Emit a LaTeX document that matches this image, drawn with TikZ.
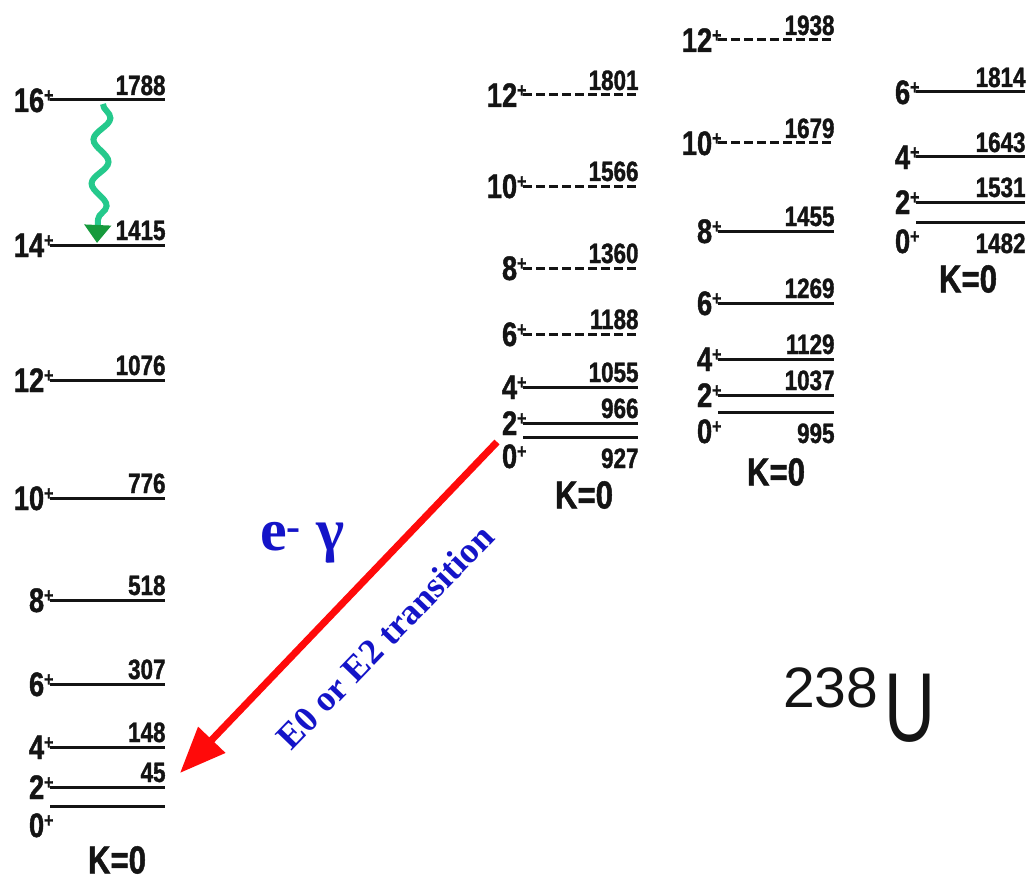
\documentclass[tikz,border=0pt]{standalone}
\usepackage{fontspec}
\usepackage{graphicx}
\usepackage{tikz}
\usetikzlibrary{arrows.meta,decorations.pathmorphing}
\setmainfont{Liberation Sans}
\newfontfamily\lvlfont[FakeStretch=0.8,FakeBold=1.2]{Liberation Sans}
\newfontfamily\notefont{Liberation Serif}
\newcommand{\parplus}{\raisebox{10pt}{\fontsize{20}{20}\selectfont+}}
\definecolor{ink}{HTML}{141414}
\definecolor{notered}{HTML}{FF0A0A}
\definecolor{noteblue}{HTML}{1414C8}
\definecolor{gammagreen}{HTML}{25C98C}
\definecolor{gammadark}{HTML}{169A3C}
\tikzset{
  level/.style={draw=ink,line width=3pt},
  dlevel/.style={level,dash pattern=on 9pt off 4pt},
  lvltext/.style={anchor=base east,inner sep=0pt,text=ink},
  spin/.style={lvltext,xshift=5pt,yshift=-12pt,
               font=\lvlfont\bfseries\fontsize{34}{36}\selectfont},
  spinlow/.style={lvltext,xshift=5pt,yshift=-31pt,
                  font=\lvlfont\bfseries\fontsize{34}{36}\selectfont},
  energy/.style={lvltext,xshift=2pt,yshift=5pt,
                 font=\lvlfont\bfseries\fontsize{28}{30}\selectfont},
  energylow/.style={lvltext,xshift=2pt,yshift=-31pt,
                    font=\lvlfont\bfseries\fontsize{28}{30}\selectfont},
  kband/.style={inner sep=0pt,text=ink,font=\lvlfont\bfseries\fontsize{39}{40}\selectfont},
  nucleus/.style={anchor=base west,inner sep=0pt,text=ink},
  e0arr/.style={-{Triangle[length=46pt,width=36pt]},line width=7pt,color=notered},
  gammaarr/.style={-{Triangle[length=18pt,width=26pt,color=gammadark]},line width=6pt,
                   color=gammagreen,decorate,
                   decoration={snake,segment length=44pt,amplitude=8pt,post length=20pt}},
  egamma/.style={anchor=base west,inner sep=0pt,text=noteblue,
                 font=\notefont\bfseries\fontsize{60}{60}\selectfont},
  trans/.style={inner sep=0pt,text=noteblue,rotate=46,
                font=\notefont\bfseries\fontsize{36}{36}\selectfont}
}
\begin{document}
\begin{tikzpicture}[x=1pt,y=-1pt]
  \fill[white] (0,0) rectangle (1031,880);
  \useasboundingbox (0,0) rectangle (1031,880);
  % ground band
  \draw[level] (50,100) node[spin] (g16) {16\parplus} -- (165,100) node[energy] (g16e) {1788};
  \draw[level] (50,245) node[spin] (g14) {14\parplus} -- (165,245) node[energy] (g14e) {1415};
  \draw[level] (50,380) node[spin] (g12) {12\parplus} -- (165,380) node[energy] (g12e) {1076};
  \draw[level] (50,498) node[spin] (g10) {10\parplus} -- (165,498) node[energy] (g10e) {776};
  \draw[level] (50,600) node[spin] (g8) {8\parplus} -- (165,600) node[energy] (g8e) {518};
  \draw[level] (50,684) node[spin] (g6) {6\parplus} -- (165,684) node[energy] (g6e) {307};
  \draw[level] (50,747) node[spin] (g4) {4\parplus} -- (165,747) node[energy] (g4e) {148};
  \draw[level] (50,787) node[spin] (g2) {2\parplus} -- (165,787) node[energy] (g2e) {45};
  \draw[level] (50,806) node[spinlow] (g0) {0\parplus} -- (165,806);
  \node[kband] (gk) at (117,860) {K=0};
  % beta band
  \draw[dlevel] (523,95) node[spin] (b12) {12\parplus} -- (638,95) node[energy] (b12e) {1801};
  \draw[dlevel] (523,186) node[spin] (b10) {10\parplus} -- (638,186) node[energy] (b10e) {1566};
  \draw[dlevel] (523,268) node[spin] (b8) {8\parplus} -- (638,268) node[energy] (b8e) {1360};
  \draw[dlevel] (523,334) node[spin] (b6) {6\parplus} -- (638,334) node[energy] (b6e) {1188};
  \draw[level] (523,387) node[spin] (b4) {4\parplus} -- (638,387) node[energy] (b4e) {1055};
  \draw[level] (523,423) node[spin] (b2) {2\parplus} -- (638,423) node[energy] (b2e) {966};
  \draw[level] (523,437) node[spinlow] (b0) {0\parplus} -- (638,437) node[energylow] (b0e) {927};
  \node[kband] (bk) at (584,495) {K=0};
  % second band
  \draw[dlevel] (718,40) node[spin] (c12) {12\parplus} -- (834,40) node[energy] (c12e) {1938};
  \draw[dlevel] (718,143) node[spin] (c10) {10\parplus} -- (834,143) node[energy] (c10e) {1679};
  \draw[level] (718,231) node[spin] (c8) {8\parplus} -- (834,231) node[energy] (c8e) {1455};
  \draw[level] (718,303) node[spin] (c6) {6\parplus} -- (834,303) node[energy] (c6e) {1269};
  \draw[level] (718,359) node[spin] (c4) {4\parplus} -- (834,359) node[energy] (c4e) {1129};
  \draw[level] (718,395) node[spin] (c2) {2\parplus} -- (834,395) node[energy] (c2e) {1037};
  \draw[level] (718,412) node[spinlow] (c0) {0\parplus} -- (834,412) node[energylow] (c0e) {995};
  \node[kband] (ck) at (776,472) {K=0};
  % third band
  \draw[level] (916,92) node[spin] (d6) {6\parplus} -- (1025,92) node[energy] (d6e) {1814};
  \draw[level] (916,157) node[spin] (d4) {4\parplus} -- (1025,157) node[energy] (d4e) {1643};
  \draw[level] (916,202) node[spin] (d2) {2\parplus} -- (1025,202) node[energy] (d2e) {1531};
  \draw[level] (916,222) node[spinlow] (d0) {0\parplus} -- (1025,222) node[energylow] (d0e) {1482};
  \node[kband] (dk) at (968,279) {K=0};
  % transitions
  \coordinate (w16) at (103,104);
  \coordinate (w14) at (97,243);
  \draw[gammaarr] (w16) -- (w14);
  \coordinate (bhead) at (497,442);
  \coordinate (gtail) at (180,773);
  \draw[e0arr] (bhead) -- (gtail);
  \node[egamma] (eg) at (260,550) {e\textsuperscript{-} γ};
  \node[trans] (tr) at (385,637) {E0 or E2 transition};
  % nucleus
  \node[nucleus,font=\fontsize{57}{57}\selectfont] (mass) at (783,707) {238};
  \node[nucleus,font=\fontsize{98}{98}\selectfont] (elem) at (884,741) {\scalebox{0.72}[1]{U}};
\end{tikzpicture}
\end{document}
